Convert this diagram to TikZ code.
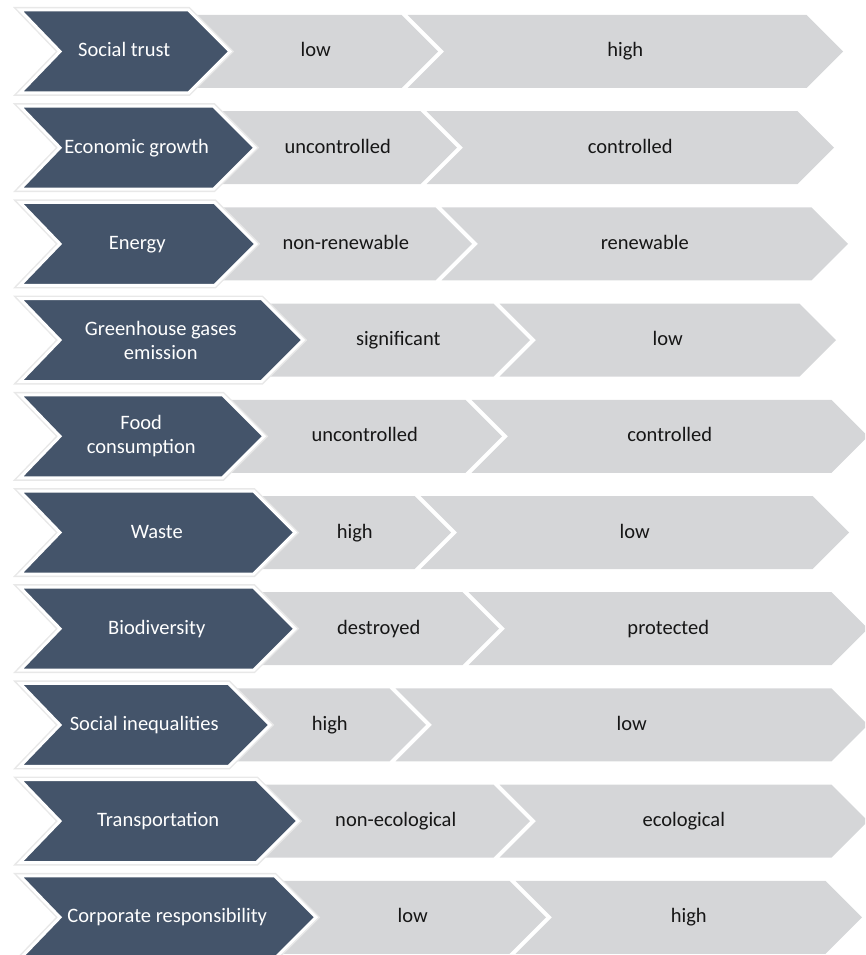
\documentclass[tikz,border=0pt]{standalone}
\usepackage{fontspec}
\setmainfont{Carlito}
\definecolor{slate}{RGB}{68,84,106}
\definecolor{pale}{RGB}{213,214,216}
\definecolor{ink}{RGB}{22,22,22}
\definecolor{glow}{RGB}{232,232,232}
\tikzset{
  headarrow/.style={fill=slate, draw=white, line width=3pt, line join=miter},
  headglow/.style={draw=glow, line width=6pt, line join=miter},
  palearrow/.style={fill=pale},
  headpair/.style={text=white, font=\fontsize{20.5}{24}\selectfont, align=center, inner sep=0pt},
  headtext/.style={text=white, font=\fontsize{20.5}{24}\selectfont, inner sep=0pt, text height=15pt, text depth=4pt},
  valtext/.style={text=ink, font=\fontsize{20.5}{24}\selectfont, inner sep=0pt, text height=15pt, text depth=4pt}
}
% #1 row index, #2 tip of heading arrow, #3 tip of first pale arrow,
% #4 tip of second pale arrow, #5 heading style, #6 heading,
% #7 first value, #8 second value
\newcommand\chevrow[8]{%
  \pgfmathsetmacro\yc{51.5+96.2*#1}%
  \pgfmathsetmacro\yt{\yc-41.5}%
  \pgfmathsetmacro\yb{\yc+41.5}%
  \pgfmathsetmacro\lt{\yc-36.5}%
  \pgfmathsetmacro\lb{\yc+36.5}%
  % first pale segment, tucked under the heading arrow
  \path[palearrow] (#2-80,\lt) -- (#3-36.5,\lt) -- (#3,\yc) -- (#3-36.5,\lb) -- (#2-80,\lb) -- cycle;
  % second pale segment, notched on the left
  \path[palearrow] (#3-30.5,\lt) -- (#4-36.5,\lt) -- (#4,\yc) -- (#4-36.5,\lb) -- (#3-30.5,\lb) -- (#3+6,\yc) -- cycle;
  % heading arrow
  \draw[headglow] (20,\yt) -- (#2-41.5,\yt) -- (#2,\yc) -- (#2-41.5,\yb) -- (20,\yb) -- (60,\yc) -- cycle;
  \path[headarrow] (20,\yt) -- (#2-41.5,\yt) -- (#2,\yc) -- (#2-41.5,\yb) -- (20,\yb) -- (60,\yc) -- cycle;
  \node[#5] (h#1) at ({(60+#2-41.5)/2},\yc) {#6};
  \node[valtext] (a#1) at ({(#2+#3-36.5)/2},\yc) {#7};
  \node[valtext] (b#1) at ({(#3+6+#4-36.5)/2},\yc) {#8};
}
\begin{document}
\begin{tikzpicture}[x=1pt, y=-1pt]
  \useasboundingbox (0,0) rectangle (865,955);
  \clip (0,0) rectangle (865,955);
  \chevrow{0}{230}{438}{843}{headtext}{Social trust}{low}{high}
  \chevrow{1}{255}{457}{834}{headtext}{Economic growth}{uncontrolled}{controlled}
  \chevrow{2}{256}{472}{848}{headtext}{Energy}{non-renewable}{renewable}
  \chevrow{3}{303}{530}{836}{headpair}{Greenhouse gases\\emission}{significant}{low}
  \chevrow{4}{264}{502}{868}{headpair}{Food\\consumption}{uncontrolled}{controlled}
  \chevrow{5}{295}{451}{849}{headtext}{Waste}{high}{low}
  \chevrow{6}{295}{499}{868}{headtext}{Biodiversity}{destroyed}{protected}
  \chevrow{7}{270}{426}{868}{headtext}{Social inequalities}{high}{low}
  \chevrow{8}{298}{530}{868}{headtext}{Transportation}{non-ecological}{ecological}
  \chevrow{9}{316}{546}{862}{headtext}{Corporate responsibility}{low}{high}
\end{tikzpicture}
\end{document}
